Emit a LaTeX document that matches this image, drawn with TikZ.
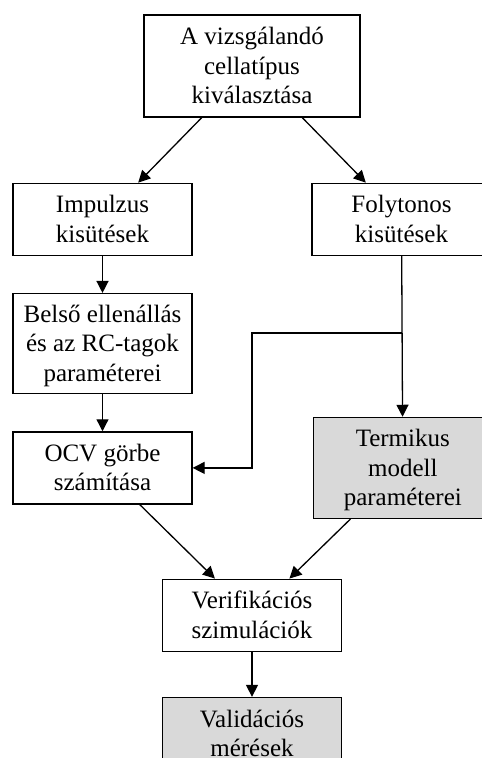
\documentclass[tikz,border=0pt]{standalone}
\usepackage{fontspec}
\setmainfont{Liberation Serif}
\usepackage{tikz}
\usepackage{xcolor}
\usetikzlibrary{arrows.meta, positioning}
\definecolor{cellgray}{RGB}{217,217,217}

\begin{document}
\begin{tikzpicture}[
		node distance=37pt,
		procbox/.style={draw=black, fill=white, line width=1.3pt, inner sep=0pt,
			minimum width=179pt, minimum height=72pt, align=center,
			text height=46pt, text depth=0pt,
			font=\fontsize{25}{29.5}\selectfont},
		tallbox/.style={procbox, text height=75.5pt},
		measbox/.style={fill=cellgray},
		arrow/.style={-{Triangle[length=12pt, width=12pt]}, line width=1.3pt, draw=black}
	]
		\useasboundingbox (0,0) rectangle (482pt,-758pt);
		\node[tallbox, minimum width=216pt, minimum height=102pt] (select) at (252pt,-66pt) {A vizsgálandó\\cellatípus\\kiválasztása};
		\node[procbox, below=65pt of select, xshift=-149.5pt] (pulse) {Impulzus\\kisütések};
		\node[procbox, below=65pt of select, xshift=149.5pt] (cont) {Folytonos\\kisütések};
		\node[tallbox, minimum height=100pt, below=of pulse] (rint) {Belső ellenállás\\és az RC-tagok\\paraméterei};
		\node[procbox, below=of rint] (ocv) {OCV görbe\\számítása};
		\node[tallbox, measbox, minimum height=101pt, right=120pt of ocv] (therm) {Termikus\\modell\\paraméterei};
		\node[procbox, below=74pt of ocv, xshift=149.5pt] (verif) {Verifikációs\\szimulációk};
		\node[procbox, measbox, below=45pt of verif] (valid) {Validációs\\mérések};
		\path (cont.south) ++(0,-77pt) coordinate (split);
		\draw[arrow] (select) -- (pulse);
		\draw[arrow] (select) -- (cont);
		\draw[arrow] (pulse) -- (rint);
		\draw[arrow] (rint) -- (ocv);
		\draw[arrow] (cont) -- (therm);
		\draw[arrow] (split) -| (verif.north |- split) |- (ocv.east);
		\draw[arrow] (ocv) -- (verif);
		\draw[arrow] (therm) -- (verif);
		\draw[arrow] (verif) -- (valid);
	\end{tikzpicture}
\end{document}
